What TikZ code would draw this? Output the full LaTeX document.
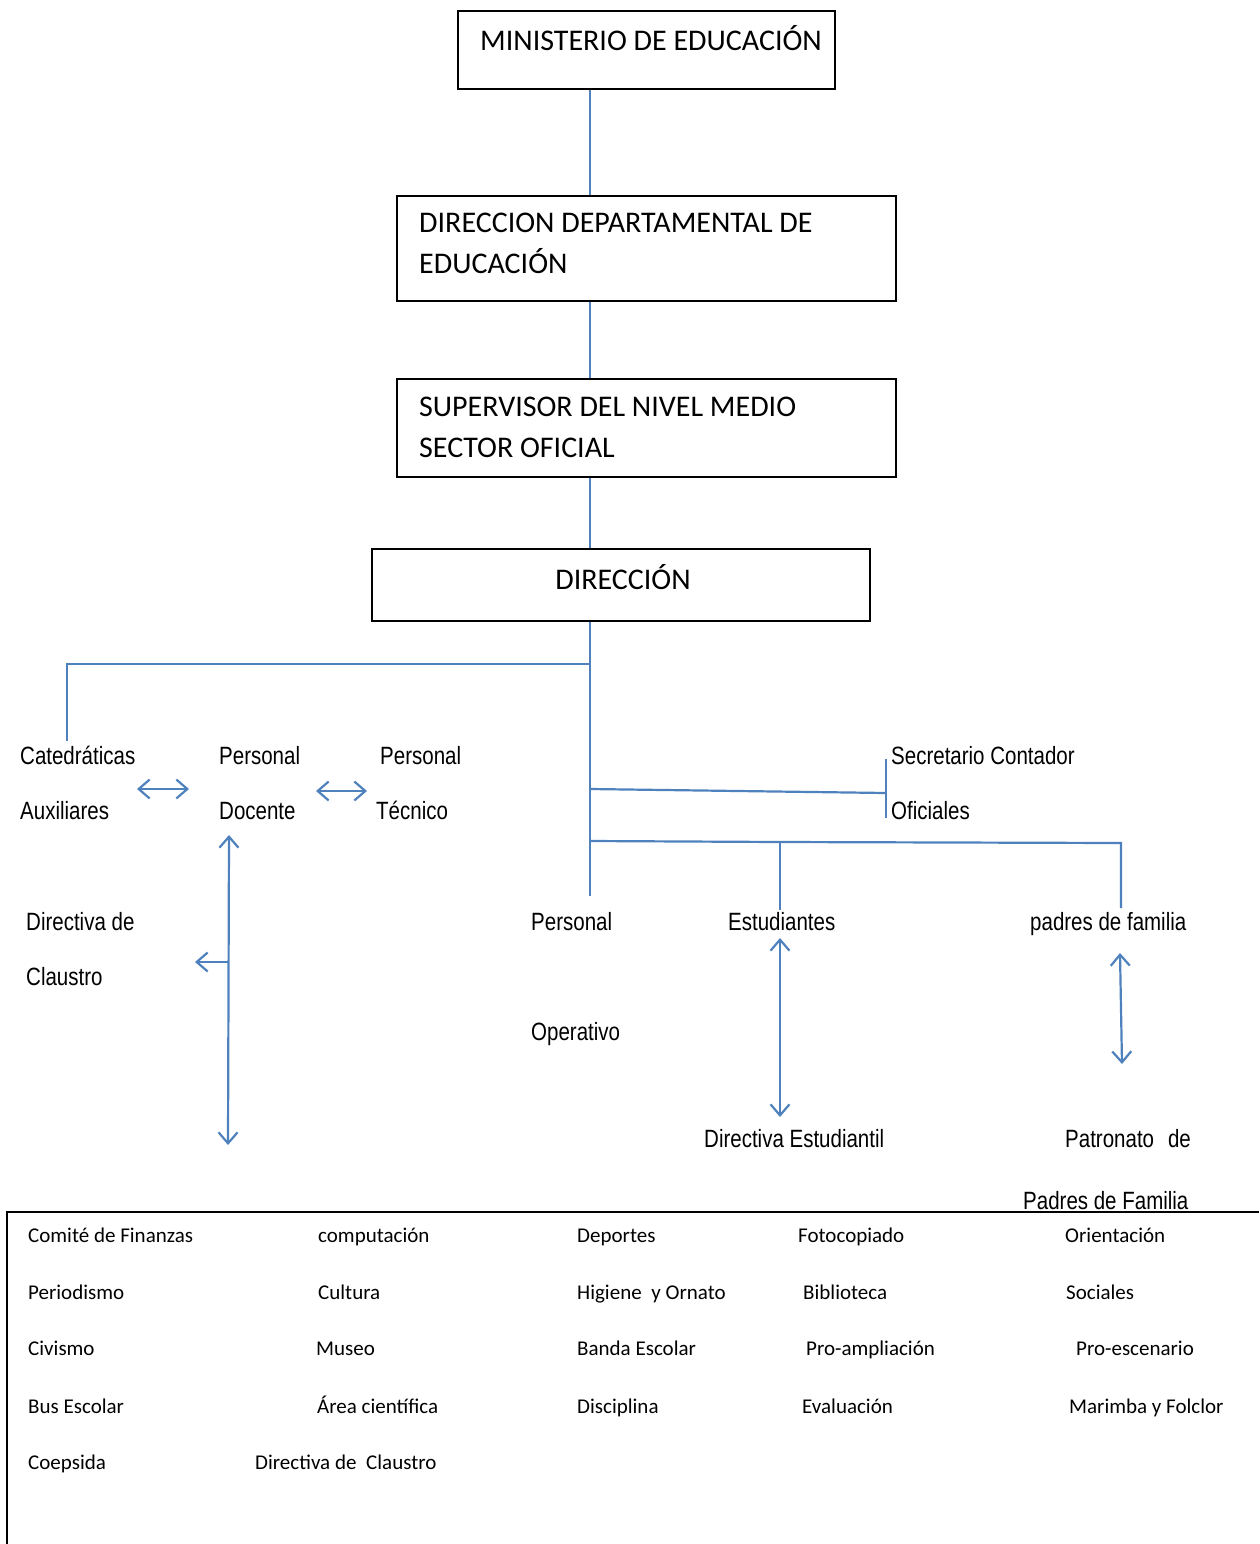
\documentclass[tikz,border=0pt]{standalone}
\usepackage{fontspec}
\setmainfont{Liberation Sans}[FakeStretch=0.82]
\newfontfamily\calfont{Carlito}
\usetikzlibrary{arrows.meta}
\definecolor{orgblue}{HTML}{4F81BD}
\pgfmathsetmacro{\spinex}{590}
\pgfmathsetmacro{\linew}{2.2}

\begin{document}
\begin{tikzpicture}[x=1pt, y=-1pt,
    box/.style={draw=black, line width=1.8pt, inner sep=0pt},
    boxtext/.style={font=\calfont\fontsize{30}{41}\selectfont, anchor=west, inner sep=0pt, align=left},
    orgtext/.style={font=\fontsize{25}{30}\selectfont, anchor=west, inner sep=0pt, text height=18pt, text depth=3pt},
    listtext/.style={font=\calfont\fontsize{21}{25}\selectfont, anchor=west, inner sep=0pt, text height=14pt, text depth=1pt},
    link/.style={draw=orgblue, line width=\linew pt},
    twoway/.style={link, {Straight Barb[length=11pt,width=19pt]}-{Straight Barb[length=11pt,width=19pt]}},
    oneway/.style={link, -{Straight Barb[length=11pt,width=19pt]}},
]
\useasboundingbox (0,0) rectangle (1259,1544);
    % boxes
    \node[box, minimum width=377pt, minimum height=78pt] (ministerio) at (646.5,50) {};
    \node[box, minimum width=499pt, minimum height=105pt] (departamental) at (646.5,248.5) {};
    \node[box, minimum width=499pt, minimum height=98pt] (supervisor) at (646.5,428) {};
    \node[box, minimum width=498pt, minimum height=72pt] (direccion) at (621,585) {};
    \node[boxtext] (ministerio_txt) at (480,38) {MINISTERIO DE EDUCACIÓN};
    \node[boxtext] (departamental_txt) at (419,243) {DIRECCION DEPARTAMENTAL DE\\EDUCACIÓN};
    \node[boxtext] (supervisor_txt) at (419,427) {SUPERVISOR DEL NIVEL MEDIO\\SECTOR OFICIAL};
    \node[boxtext, anchor=center] (direccion_txt) at (623,577) {DIRECCIÓN};
    % staff
    \node[orgtext] (catedraticas) at (20,757) {Catedráticas};
    \node[orgtext] (auxiliares) at (20,812) {Auxiliares};
    \node[orgtext] (docente_a) at (219,757) {Personal};
    \node[orgtext] (docente_b) at (219,812) {Docente};
    \node[orgtext] (tecnico_a) at (380,757) {Personal};
    \node[orgtext] (tecnico_b) at (376,812) {Técnico};
    \node[orgtext] (claustro_a) at (26,923) {Directiva de};
    \node[orgtext] (claustro_b) at (26,978) {Claustro};
    \node[orgtext] (secretario) at (891,757) {Secretario Contador};
    \node[orgtext] (oficiales) at (891,812) {Oficiales};
    \node[orgtext] (operativo_a) at (531,923) {Personal};
    \node[orgtext] (operativo_b) at (531,1033) {Operativo};
    \node[orgtext] (estudiantes) at (728,923) {Estudiantes};
    \node[orgtext] (padres) at (1030,923) {padres de familia};
    \node[orgtext] (dir_estudiantil) at (704,1140) {Directiva Estudiantil};
    \node[orgtext] (patronato) at (1065,1140) {Patronato\hspace{14pt}de};
    \node[orgtext] (padres_familia) at (1023,1202) {Padres de Familia};
    % free ends
    \coordinate (spine) at (\spinex,0);
    \coordinate (spine_bot) at (\spinex,896);
    \coordinate (left_join) at (\spinex,664);
    \coordinate (cat_top) at (67,741);
    \coordinate (sec_join) at (\spinex,789);
    \coordinate (sec_mid) at (886,793);
    \coordinate (sec_top) at (886,759);
    \coordinate (sec_bot) at (886,818);
    \coordinate (base_join) at (\spinex,841);
    \coordinate (est_join) at (780,842);
    \coordinate (est_top) at (780,910);
    \coordinate (pad_corner) at (1121,843);
    \coordinate (pad_top) at (1121,908);
    \coordinate (cat_arrow_l) at (137,789);
    \coordinate (cat_arrow_r) at (189,789);
    \coordinate (tec_arrow_l) at (316,791);
    \coordinate (tec_arrow_r) at (367,791);
    \coordinate (doc_up) at (229,835);
    \coordinate (doc_down) at (228,1145);
    \coordinate (claustro_join) at (229,962);
    \coordinate (claustro_tip) at (195,962);
    \coordinate (est_up) at (780,938);
    \coordinate (est_down) at (780,1117);
    \coordinate (pad_up) at (1120,953);
    \coordinate (pad_down) at (1122,1064);
    % connectors
    \draw[link] (ministerio.south -| spine) -- (departamental.north -| spine);
    \draw[link] (departamental.south -| spine) -- (supervisor.north -| spine);
    \draw[link] (supervisor.south -| spine) -- (direccion.north -| spine);
    \draw[link] (direccion.south -| spine) -- (spine_bot);
    \draw[link] (left_join) -| (cat_top);
    \draw[link] (sec_join) -- (sec_mid);
    \draw[link] (sec_top) -- (sec_bot);
    \draw[link] (base_join) -- (est_join) -- (pad_corner) -- (pad_top);
    \draw[link] (est_join) -- (est_top);
    \draw[twoway] (cat_arrow_l) -- (cat_arrow_r);
    \draw[twoway] (tec_arrow_l) -- (tec_arrow_r);
    \draw[twoway] (doc_up) -- (doc_down);
    \draw[oneway] (claustro_join) -- (claustro_tip);
    \draw[twoway] (est_up) -- (est_down);
    \draw[twoway] (pad_up) -- (pad_down);
    % committees
    \draw[black, line width=1.8pt] (7,1544) -- (7,1212) -- (1259,1212);
    \node[listtext] (comite) at (28,1236) {Comité de Finanzas};
    \node[listtext] (computacion) at (318,1236) {computación};
    \node[listtext] (deportes) at (577,1236) {Deportes};
    \node[listtext] (fotocopiado) at (798,1236) {Fotocopiado};
    \node[listtext] (orientacion) at (1065,1236) {Orientación};
    \node[listtext] (periodismo) at (28,1293) {Periodismo};
    \node[listtext] (cultura) at (318,1293) {Cultura};
    \node[listtext] (higiene) at (577,1293) {Higiene\hspace{5pt} y Ornato};
    \node[listtext] (biblioteca) at (803,1293) {Biblioteca};
    \node[listtext] (sociales) at (1066,1293) {Sociales};
    \node[listtext] (civismo) at (28,1349) {Civismo};
    \node[listtext] (museo) at (316,1349) {Museo};
    \node[listtext] (banda) at (577,1349) {Banda Escolar};
    \node[listtext] (ampliacion) at (806,1349) {Pro-ampliación};
    \node[listtext] (escenario) at (1076,1349) {Pro-escenario};
    \node[listtext] (bus) at (28,1407) {Bus Escolar};
    \node[listtext] (cientifica) at (317,1407) {Área científica};
    \node[listtext] (disciplina) at (577,1407) {Disciplina};
    \node[listtext] (evaluacion) at (802,1407) {Evaluación};
    \node[listtext] (marimba) at (1069,1407) {Marimba y Folclor};
    \node[listtext] (coepsida) at (28,1463) {Coepsida};
    \node[listtext] (claustro_list) at (255,1463) {Directiva de\hspace{5pt} Claustro};
\end{tikzpicture}
\end{document}
